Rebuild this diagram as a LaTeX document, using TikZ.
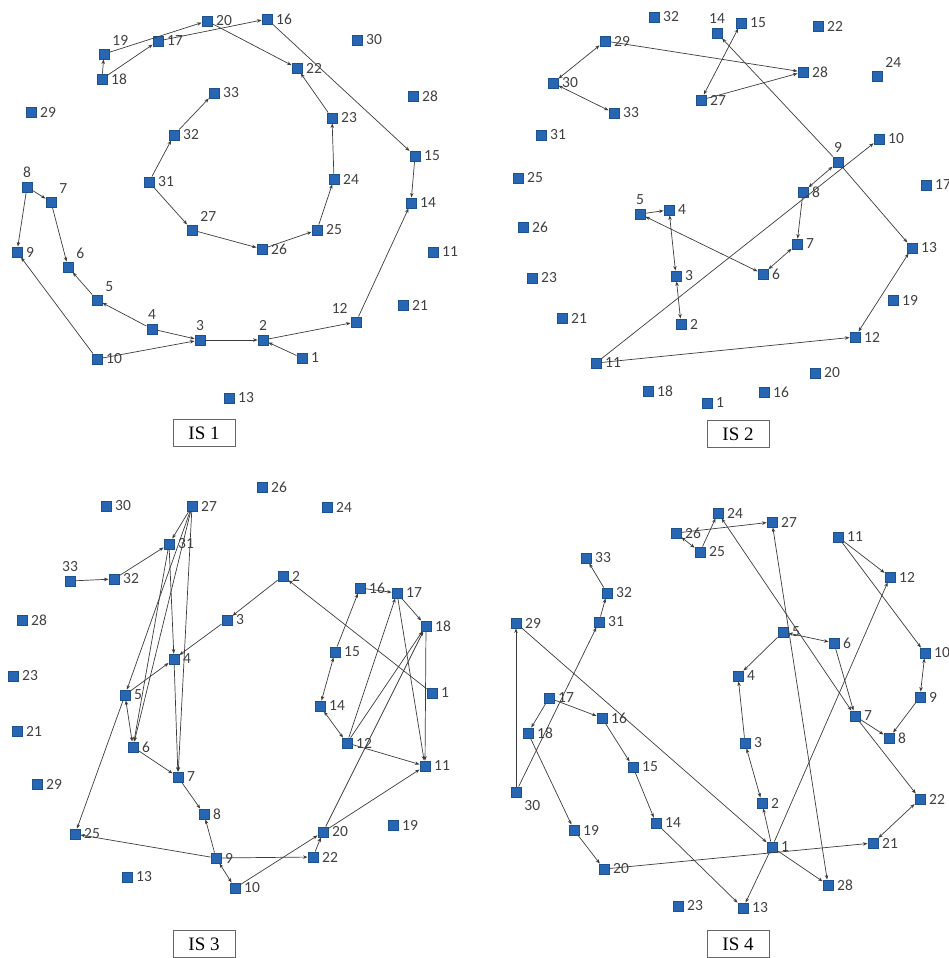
\documentclass[tikz,border=0pt]{standalone}
\usepackage{fontspec}
\setmainfont{Liberation Serif}
\newfontfamily\lblfont{Carlito}
\usetikzlibrary{arrows.meta}
\definecolor{vblue}{RGB}{38,102,178}
\definecolor{edgegray}{RGB}{60,60,60}
\tikzset{
  vtx/.style={rectangle,fill=vblue,draw=vblue!80!black,inner sep=0pt,minimum size=10.5pt},
  every label/.style={font=\lblfont\fontsize{15.5}{16}\selectfont,text=black!75,inner sep=1pt},
  lnk/.style={draw=edgegray,line width=0.7pt,-{Stealth[length=4.5pt,width=3.5pt]}},
  both/.style={draw=edgegray,line width=0.7pt,{Stealth[length=4.5pt,width=3.5pt]}-{Stealth[length=4.5pt,width=3.5pt]}},
  tag/.style={draw=black!60,line width=0.6pt,font=\fontsize{19}{20}\selectfont,minimum width=62pt,minimum height=27pt,inner sep=2pt}
}

\begin{document}
\begin{tikzpicture}[x=1pt,y=-1pt,label distance=2.5pt]
  \useasboundingbox (0,0) rectangle (948,958);
  % IS 1
  \node[vtx,label=right:1] (a1) at (302,358) {};
  \node[vtx,label=above:2] (a2) at (263,340) {};
  \node[vtx,label=above:3] (a3) at (200,340) {};
  \node[vtx,label=above:4] (a4) at (152,329) {};
  \node[vtx,label=above right:5] (a5) at (97,300) {};
  \node[vtx,label=above right:6] (a6) at (68,267) {};
  \node[vtx,label=above right:7] (a7) at (51,202) {};
  \node[vtx,label=above:8] (a8) at (27,187) {};
  \node[vtx,label=right:9] (a9) at (17,252) {};
  \node[vtx,label=right:10] (a10) at (97,359) {};
  \node[vtx,label=right:11] (a11) at (433,252) {};
  \node[vtx,label=above left:12] (a12) at (356,322) {};
  \node[vtx,label=right:13] (a13) at (229,398) {};
  \node[vtx,label=right:14] (a14) at (411,203) {};
  \node[vtx,label=right:15] (a15) at (415,156) {};
  \node[vtx,label=right:16] (a16) at (267,19) {};
  \node[vtx,label=right:17] (a17) at (158,41) {};
  \node[vtx,label=right:18] (a18) at (102,79) {};
  \node[vtx,label=above right:19] (a19) at (104,54) {};
  \node[vtx,label=right:20] (a20) at (207,21) {};
  \node[vtx,label=right:21] (a21) at (403,305) {};
  \node[vtx,label=right:22] (a22) at (297,68) {};
  \node[vtx,label=right:23] (a23) at (332,118) {};
  \node[vtx,label=right:24] (a24) at (334,179) {};
  \node[vtx,label=right:25] (a25) at (317,230) {};
  \node[vtx,label=right:26] (a26) at (262,249) {};
  \node[vtx,label=above right:27] (a27) at (192,230) {};
  \node[vtx,label=right:28] (a28) at (413,96) {};
  \node[vtx,label=right:29] (a29) at (31,112) {};
  \node[vtx,label=right:30] (a30) at (357,40) {};
  \node[vtx,label=right:31] (a31) at (149,182) {};
  \node[vtx,label=right:32] (a32) at (174,135) {};
  \node[vtx,label=right:33] (a33) at (214,93) {};
  \node[tag] (t1) at (204,433) {IS 1};
  \draw[lnk] (a18)--(a19);
  \draw[lnk] (a18)--(a17);
  \draw[lnk] (a19)--(a20);
  \draw[lnk] (a17)--(a16);
  \draw[lnk] (a20)--(a22);
  \draw[lnk] (a16)--(a15);
  \draw[lnk] (a23)--(a22);
  \draw[lnk] (a24)--(a23);
  \draw[lnk] (a25)--(a24);
  \draw[lnk] (a26)--(a25);
  \draw[lnk] (a27)--(a26);
  \draw[lnk] (a31)--(a27);
  \draw[lnk] (a31)--(a32);
  \draw[lnk] (a32)--(a33);
  \draw[lnk] (a15)--(a14);
  \draw[lnk] (a12)--(a14);
  \draw[lnk] (a2)--(a12);
  \draw[lnk] (a3)--(a2);
  \draw[lnk] (a1)--(a2);
  \draw[lnk] (a4)--(a3);
  \draw[lnk] (a4)--(a5);
  \draw[lnk] (a5)--(a6);
  \draw[lnk] (a7)--(a6);
  \draw[lnk] (a8)--(a7);
  \draw[lnk] (a8)--(a9);
  \draw[lnk] (a10)--(a9);
  \draw[lnk] (a10)--(a3);
  % IS 2
  \node[vtx,label=right:1] (b1) at (707,403) {};
  \node[vtx,label=right:2] (b2) at (681,324) {};
  \node[vtx,label=right:3] (b3) at (676,276) {};
  \node[vtx,label=right:4] (b4) at (669,210) {};
  \node[vtx,label=above:5] (b5) at (640,214) {};
  \node[vtx,label=right:6] (b6) at (763,274) {};
  \node[vtx,label=right:7] (b7) at (797,244) {};
  \node[vtx,label=right:8] (b8) at (803,192) {};
  \node[vtx,label=above:9] (b9) at (838,162) {};
  \node[vtx,label=right:10] (b10) at (879,139) {};
  \node[vtx,label=right:11] (b11) at (596,363) {};
  \node[vtx,label=right:12] (b12) at (855,337) {};
  \node[vtx,label=right:13] (b13) at (912,248) {};
  \node[vtx,label=above:14] (b14) at (717,33) {};
  \node[vtx,label=right:15] (b15) at (741,23) {};
  \node[vtx,label=right:16] (b16) at (764,392) {};
  \node[vtx,label=right:17] (b17) at (926,185) {};
  \node[vtx,label=right:18] (b18) at (648,391) {};
  \node[vtx,label=right:19] (b19) at (893,300) {};
  \node[vtx,label=right:20] (b20) at (815,373) {};
  \node[vtx,label=right:21] (b21) at (562,318) {};
  \node[vtx,label=right:22] (b22) at (818,26) {};
  \node[vtx,label=right:23] (b23) at (532,278) {};
  \node[vtx,label=above right:24] (b24) at (877,76) {};
  \node[vtx,label=right:25] (b25) at (518,178) {};
  \node[vtx,label=right:26] (b26) at (523,227) {};
  \node[vtx,label=right:27] (b27) at (701,100) {};
  \node[vtx,label=right:28] (b28) at (803,72) {};
  \node[vtx,label=right:29] (b29) at (605,41) {};
  \node[vtx,label=right:30] (b30) at (553,83) {};
  \node[vtx,label=right:31] (b31) at (541,135) {};
  \node[vtx,label=right:32] (b32) at (654,17) {};
  \node[vtx,label=right:33] (b33) at (614,113) {};
  \node[tag] (t2) at (738,434) {IS 2};
  \draw[both] (b30)--(b29);
  \draw[both] (b30)--(b33);
  \draw[lnk] (b29)--(b28);
  \draw[lnk] (b27)--(b28);
  \draw[both] (b15)--(b27);
  \draw[lnk] (b9)--(b14);
  \draw[lnk] (b9)--(b13);
  \draw[both] (b8)--(b9);
  \draw[lnk] (b11)--(b10);
  \draw[lnk] (b8)--(b7);
  \draw[both] (b7)--(b6);
  \draw[both] (b6)--(b5);
  \draw[lnk] (b5)--(b4);
  \draw[both] (b4)--(b3);
  \draw[both] (b2)--(b3);
  \draw[lnk] (b11)--(b12);
  \draw[both] (b12)--(b13);
  % IS 3
  \node[vtx,label=right:1] (c1) at (432,693) {};
  \node[vtx,label=right:2] (c2) at (283,576) {};
  \node[vtx,label=right:3] (c3) at (227,620) {};
  \node[vtx,label=right:4] (c4) at (174,659) {};
  \node[vtx,label=right:5] (c5) at (125,695) {};
  \node[vtx,label=right:6] (c6) at (133,747) {};
  \node[vtx,label=right:7] (c7) at (178,777) {};
  \node[vtx,label=right:8] (c8) at (204,814) {};
  \node[vtx,label=right:9] (c9) at (216,858) {};
  \node[vtx,label=right:10] (c10) at (235,888) {};
  \node[vtx,label=right:11] (c11) at (425,766) {};
  \node[vtx,label=right:12] (c12) at (347,743) {};
  \node[vtx,label=right:13] (c13) at (127,877) {};
  \node[vtx,label=right:14] (c14) at (320,706) {};
  \node[vtx,label=right:15] (c15) at (335,652) {};
  \node[vtx,label=right:16] (c16) at (360,588) {};
  \node[vtx,label=right:17] (c17) at (397,593) {};
  \node[vtx,label=right:18] (c18) at (426,626) {};
  \node[vtx,label=right:19] (c19) at (393,825) {};
  \node[vtx,label=right:20] (c20) at (323,832) {};
  \node[vtx,label=right:21] (c21) at (17,731) {};
  \node[vtx,label=right:22] (c22) at (313,857) {};
  \node[vtx,label=right:23] (c23) at (13,676) {};
  \node[vtx,label=right:24] (c24) at (327,507) {};
  \node[vtx,label=right:25] (c25) at (75,834) {};
  \node[vtx,label=right:26] (c26) at (262,487) {};
  \node[vtx,label=right:27] (c27) at (192,506) {};
  \node[vtx,label=right:28] (c28) at (22,620) {};
  \node[vtx,label=right:29] (c29) at (37,784) {};
  \node[vtx,label=right:30] (c30) at (106,506) {};
  \node[vtx,label=right:31] (c31) at (169,544) {};
  \node[vtx,label=right:32] (c32) at (114,579) {};
  \node[vtx,label=above:33] (c33) at (70,581) {};
  \node[tag] (t3) at (204,944) {IS 3};
  \draw[lnk] (c33)--(c32);
  \draw[lnk] (c32)--(c31);
  \draw[lnk] (c27)--(c31);
  \draw[lnk] (c27)--(c5);
  \draw[lnk] (c27)--(c6);
  \draw[lnk] (c31)--(c6);
  \draw[lnk] (c31)--(c4);
  \draw[lnk] (c4)--(c7);
  \draw[lnk] (c27)--(c7);
  \draw[lnk] (c5)--(c4);
  \draw[lnk] (c3)--(c4);
  \draw[lnk] (c2)--(c3);
  \draw[lnk] (c1)--(c2);
  \draw[both] (c5)--(c6);
  \draw[lnk] (c5)--(c25);
  \draw[lnk] (c6)--(c7);
  \draw[lnk] (c7)--(c8);
  \draw[lnk] (c9)--(c8);
  \draw[both] (c9)--(c10);
  \draw[lnk] (c9)--(c25);
  \draw[lnk] (c9)--(c22);
  \draw[lnk] (c10)--(c20);
  \draw[lnk] (c22)--(c20);
  \draw[lnk] (c20)--(c11);
  \draw[lnk] (c20)--(c18);
  \draw[lnk] (c12)--(c11);
  \draw[both] (c12)--(c14);
  \draw[both] (c14)--(c15);
  \draw[lnk] (c15)--(c16);
  \draw[lnk] (c16)--(c17);
  \draw[lnk] (c17)--(c18);
  \draw[lnk] (c18)--(c11);
  \draw[lnk] (c17)--(c11);
  \draw[lnk] (c12)--(c17);
  \draw[lnk] (c12)--(c18);
  % IS 4
  \node[vtx,label=right:1] (d1) at (772,847) {};
  \node[vtx,label=right:2] (d2) at (762,803) {};
  \node[vtx,label=right:3] (d3) at (745,743) {};
  \node[vtx,label=right:4] (d4) at (738,676) {};
  \node[vtx,label=right:5] (d5) at (783,632) {};
  \node[vtx,label=right:6] (d6) at (834,643) {};
  \node[vtx,label=right:7] (d7) at (855,716) {};
  \node[vtx,label=right:8] (d8) at (889,738) {};
  \node[vtx,label=right:9] (d9) at (920,697) {};
  \node[vtx,label=right:10] (d10) at (925,653) {};
  \node[vtx,label=right:11] (d11) at (838,537) {};
  \node[vtx,label=right:12] (d12) at (890,577) {};
  \node[vtx,label=right:13] (d13) at (743,908) {};
  \node[vtx,label=right:14] (d14) at (656,823) {};
  \node[vtx,label=right:15] (d15) at (633,767) {};
  \node[vtx,label=right:16] (d16) at (602,718) {};
  \node[vtx,label=right:17] (d17) at (549,698) {};
  \node[vtx,label=right:18] (d18) at (528,733) {};
  \node[vtx,label=right:19] (d19) at (574,830) {};
  \node[vtx,label=right:20] (d20) at (604,869) {};
  \node[vtx,label=right:21] (d21) at (873,843) {};
  \node[vtx,label=right:22] (d22) at (920,799) {};
  \node[vtx,label=right:23] (d23) at (678,906) {};
  \node[vtx,label=right:24] (d24) at (718,513) {};
  \node[vtx,label=right:25] (d25) at (700,552) {};
  \node[vtx,label=right:26] (d26) at (676,533) {};
  \node[vtx,label=right:27] (d27) at (772,522) {};
  \node[vtx,label=right:28] (d28) at (828,885) {};
  \node[vtx,label=right:29] (d29) at (516,623) {};
  \node[vtx,label=below right:30] (d30) at (516,792) {};
  \node[vtx,label=right:31] (d31) at (599,622) {};
  \node[vtx,label=right:32] (d32) at (607,593) {};
  \node[vtx,label=right:33] (d33) at (586,558) {};
  \node[tag] (t4) at (738,944) {IS 4};
  \draw[both] (d26)--(d25);
  \draw[lnk] (d25)--(d24);
  \draw[lnk] (d26)--(d27);
  \draw[both] (d24)--(d7);
  \draw[both] (d27)--(d28);
  \draw[lnk] (d11)--(d12);
  \draw[lnk] (d11)--(d10);
  \draw[lnk] (d1)--(d12);
  \draw[lnk] (d1)--(d13);
  \draw[both] (d10)--(d9);
  \draw[lnk] (d9)--(d8);
  \draw[lnk] (d7)--(d8);
  \draw[lnk] (d7)--(d22);
  \draw[lnk] (d6)--(d7);
  \draw[both] (d5)--(d6);
  \draw[lnk] (d5)--(d4);
  \draw[lnk] (d3)--(d4);
  \draw[both] (d2)--(d3);
  \draw[lnk] (d1)--(d2);
  \draw[lnk] (d1)--(d28);
  \draw[lnk] (d20)--(d21);
  \draw[both] (d21)--(d22);
  \draw[lnk] (d29)--(d1);
  \draw[lnk] (d30)--(d29);
  \draw[lnk] (d30)--(d31);
  \draw[lnk] (d31)--(d32);
  \draw[lnk] (d32)--(d33);
  \draw[lnk] (d17)--(d18);
  \draw[lnk] (d17)--(d16);
  \draw[lnk] (d16)--(d15);
  \draw[lnk] (d15)--(d14);
  \draw[lnk] (d14)--(d13);
  \draw[lnk] (d18)--(d19);
  \draw[lnk] (d19)--(d20);
\end{tikzpicture}
\end{document}
